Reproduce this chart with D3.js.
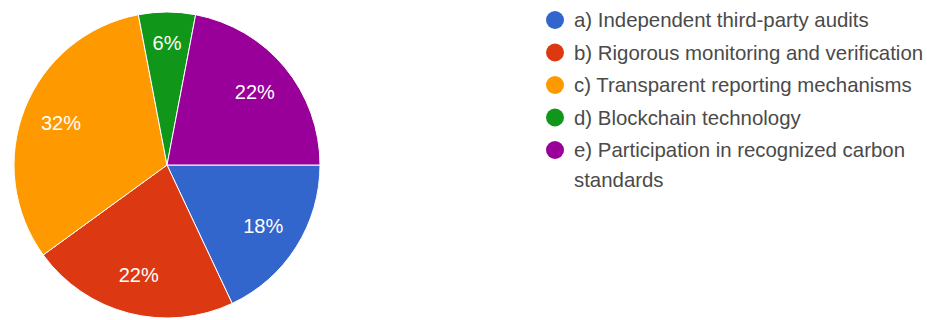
<!DOCTYPE html>
<html>
<head>
<meta charset="utf-8">
<script src="https://cdn.jsdelivr.net/npm/d3@7.9.0/dist/d3.min.js"></script>
<style>
  body { margin: 0; background: #fff; }
  svg { display: block; font-family: Arial, 'Liberation Sans', sans-serif; }
</style>
</head>
<body>
<svg id="chart" width="927" height="320"></svg>
<script>
const labels = [
  'a) Independent third-party audits',
  'b) Rigorous monitoring and verification',
  'c) Transparent reporting mechanisms',
  'd) Blockchain technology',
  'e) Participation in recognized carbon standards'
];
const shares = [18, 22, 32, 6, 22];
const colors = ['#3366cc', '#dc3912', '#ff9900', '#109618', '#990099'];

const svg = d3.select('#chart');
const cx = 167, cy = 165, radius = 153;

const data = labels.map((label, i) => ({ label, value: shares[i], color: colors[i] }));

// slices start at 3 o'clock and run clockwise
let pie = d3.pie().sort(null).value((d) => d.value)
  .startAngle(Math.PI / 2).endAngle(Math.PI / 2 + 2 * Math.PI);
let arcData = pie(data);
let arcGen = d3.arc().innerRadius(0).outerRadius(radius);
let labelArc = d3.arc().innerRadius(114).outerRadius(114);

const g = svg.append('g').attr('transform', `translate(${cx},${cy})`);

g.selectAll('path')
  .data(arcData)
  .join('path')
  .attr('d', arcGen)
  .attr('fill', (d) => d.data.color)
  .attr('stroke', '#fff')
  .attr('stroke-width', 1);

g.selectAll('text')
  .data(arcData)
  .join('text')
  .attr('transform', (d) => {
    let [x, y] = labelArc.centroid(d);
    if (d.data.value < 10) { // small slice label sits further out
      [x, y] = d3.arc().innerRadius(122).outerRadius(122).centroid(d);
    }
    return `translate(${x},${y})`;
  })
  .attr('text-anchor', 'middle')
  .attr('dominant-baseline', 'central')
  .attr('fill', '#fff')
  .attr('font-size', 20)
  .text((d) => d.data.value + '%');

// legend
const legendX = 555, legendY = 20, rowH = 32.5;
const legend = svg.append('g');

data.forEach((d, i) => {
  let y = legendY + i * rowH;
  legend.append('circle')
    .attr('cx', legendX)
    .attr('cy', y)
    .attr('r', 9)
    .attr('fill', d.color);

  let t = legend.append('text')
    .attr('x', legendX + 19)
    .attr('y', y)
    .attr('dominant-baseline', 'central')
    .attr('fill', '#4a4a4a')
    .attr('font-size', 20.4);

  if (i === 4) {
    t.append('tspan').attr('x', legendX + 19).text('e) Participation in recognized carbon');
    t.append('tspan').attr('x', legendX + 19).attr('dy', 30).text('standards');
  } else {
    t.text(d.label);
  }
});
</script>
</body>
</html>
